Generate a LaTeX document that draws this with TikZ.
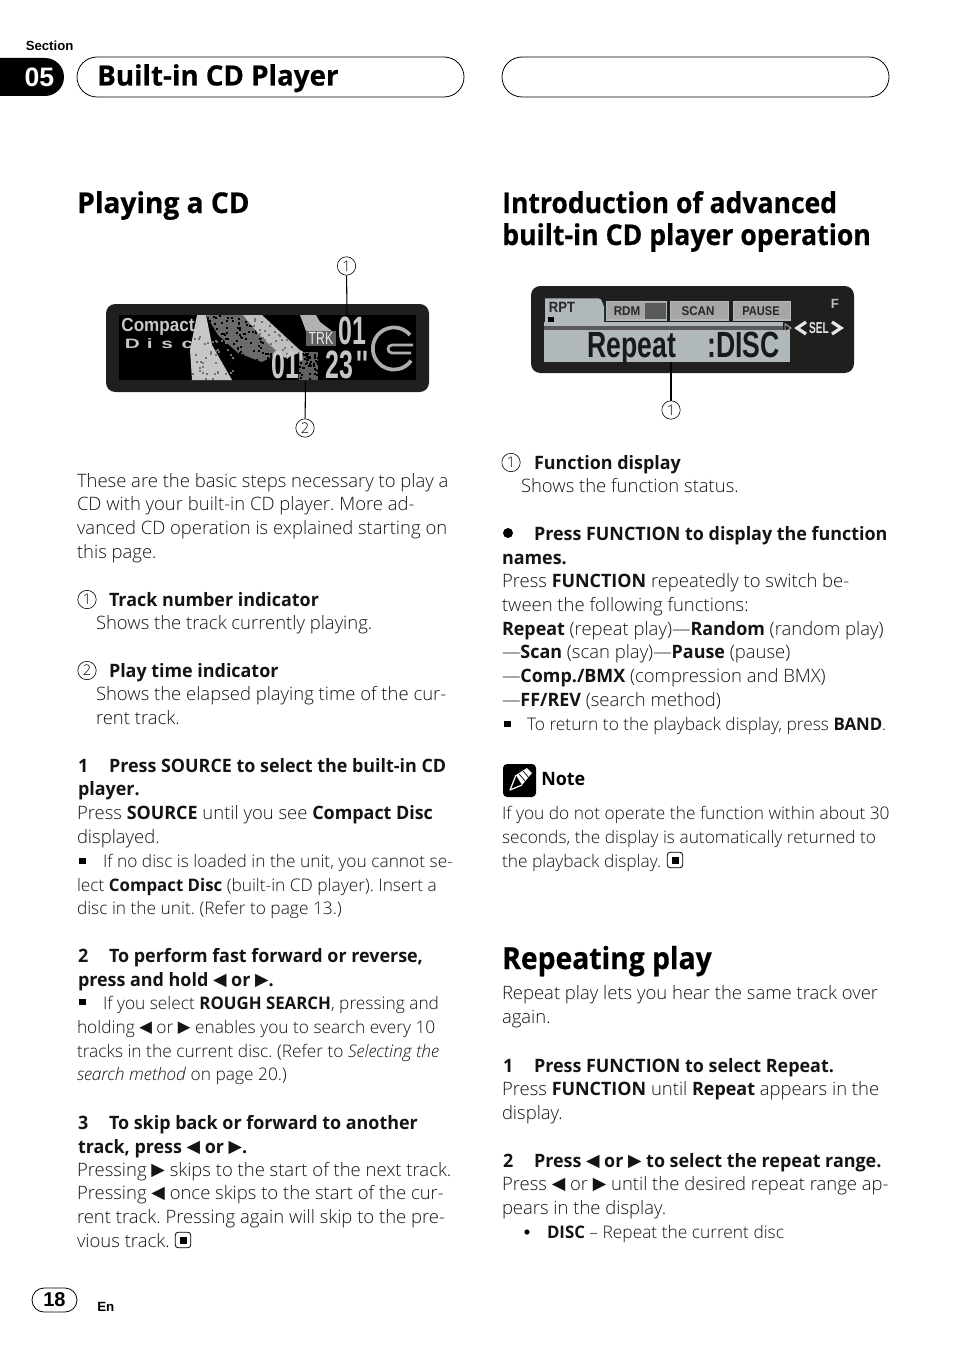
\documentclass[tikz,border=0pt]{standalone}
\usepackage{fontspec}
\setmainfont{Open Sans Light}[BoldFont={Open Sans Bold},BoldFeatures={FakeStretch=0.97},ItalicFont={Open Sans Light Italic}]
\newfontfamily\dispfont{Liberation Sans}
\newfontfamily\headfont{Open Sans}[BoldFeatures={FakeBold=0.5}]
\newfontfamily\arfont{Liberation Sans}
\newfontfamily\symfont{DejaVu Sans}
\usetikzlibrary{calc}
\newcounter{tn}
\frenchspacing
\definecolor{lcd}{RGB}{176,184,188}
\newcommand{\bd}[1]{\textbf{#1}}
\newcommand{\tril}{\raisebox{0.2pt}{\scalebox{.95}{\symfont ◀}}}
\newcommand{\trir}{\raisebox{0.2pt}{\scalebox{.95}{\symfont ▶}}}
\tikzset{
  txt/.style={anchor=base west,inner sep=0pt,outer sep=0pt,text=black!92,font=\fontsize{13.85pt}{16pt}\selectfont},
  stxt/.style={txt,font=\fontsize{13pt}{16pt}\selectfont},
  htxt/.style={anchor=base west,inner sep=0pt,font=\headfont\bfseries\fontsize{21.5pt}{24pt}\selectfont},
  cnum/.style={circle,draw,line width=.45pt,inner sep=0pt,minimum size=13.8pt,font=\fontsize{11pt}{12pt}\selectfont},
  disp/.style={anchor=center,inner sep=0pt,font=\dispfont\bfseries},
  framebox/.style={draw,line width=.6pt,rounded corners=15pt},
}
\newcommand{\LL}[3]{\stepcounter{tn}\node[txt] (t\arabic{tn}) at (#1,#2+6) {#3};}
\newcommand{\LB}[3]{\stepcounter{tn}\node[txt] (t\arabic{tn}) at (#1,#2+7) {\bd{#3}};}
\newcommand{\LS}[3]{\stepcounter{tn}\node[stxt] (t\arabic{tn}) at (#1,#2+6) {#3};}
\newcommand{\HH}[4]{\stepcounter{tn}\node[htxt] (t\arabic{tn}) at (#1,#2) {\scalebox{#3}[1]{#4}};}
\newcommand{\bsq}[2]{\fill (#1-3.2,#2-3) rectangle (#1+3.2,#2+3);}
\newcommand{\CN}[4]{\node[cnum] (#1) at (#2,#3) {#4};}
\newcommand{\stopmark}[3]{\node[draw,rounded corners=2pt,line width=.6pt,minimum size=11.5pt,inner sep=0pt] (#1) at (#2,#3) {}; \fill ($(#1)+(-3.5,-3.5)$) rectangle ($(#1)+(3.5,3.5)$);}
\begin{document}
\begin{tikzpicture}[x=.75pt,y=-.75pt]
\useasboundingbox (0,0) rectangle (954,1352);
\fill[white] (0,0) rectangle (954,1352);
% header
\node[anchor=base west,inner sep=0,font=\arfont\bfseries\fontsize{9.9pt}{10pt}\selectfont] (sec) at (25.5,50.5) {Section};
\fill (0,58) -- (45,58) arc[start angle=90,end angle=-90,radius=14.25pt] -- (0,96) -- cycle;
\node[anchor=center,inner sep=0,text=white,font=\arfont\bfseries\fontsize{20pt}{20pt}\selectfont] (sn) at (39.5,77) {05};
\node[framebox,minimum width=387*.75pt,minimum height=40*.75pt] (hb1) at (270.5,77) {};
\node[framebox,minimum width=387*.75pt,minimum height=40*.75pt] (hb2) at (695.5,77) {};
\node[anchor=base west,inner sep=0,font=\headfont\bfseries\fontsize{21pt}{24pt}\selectfont] (ht) at (97,85.5) {\scalebox{.99}[1]{Built-in CD Player}};
% headings
\HH{77}{213}{.98}{Playing a CD}
\HH{502}{213}{.925}{Introduction of advanced}
\HH{502}{245}{.93}{built-in CD player operation}
\stepcounter{tn}\node[htxt,font=\headfont\bfseries\fontsize{22.8pt}{24pt}\selectfont] (t\arabic{tn}) at (502,969) {\scalebox{.93}[1]{Repeating play}};
% display 1
\fill[black!88,rounded corners=7pt] (106,304) rectangle (429,392);
\fill[black] (119,315) rectangle (416,380);
\fill[black!22] (197,315) -- (206,315) -- (212,345) -- (232,380) -- (192,380) -- (190,350) -- cycle;
\pgfmathsetseed{7}
\begin{scope}
 \clip (206,315) -- (243,315) -- (262,335) -- (280,352) -- (262,362) -- (238,353) -- (218,335) -- cycle;
 \fill[black!58] (200,310) rectangle (290,370);
 \foreach \i in {1,...,170}{
   \pgfmathsetmacro\xa{205+rnd*78}\pgfmathsetmacro\ya{315+rnd*48}
   \fill[black] (\xa,\ya) rectangle (\xa+2,\ya+2);
 }
\end{scope}
\begin{scope}
 \clip (243,315) -- (262,315) -- (302,352) -- (285,358) -- (262,338) -- cycle;
 \fill[black!25] (240,310) rectangle (305,360);
 \foreach \i in {1,...,70}{
   \pgfmathsetmacro\xa{243+rnd*60}\pgfmathsetmacro\ya{315+rnd*44}
   \fill[black!55] (\xa,\ya) rectangle (\xa+2,\ya+2);
 }
\end{scope}
\fill[black!30] (300,315) -- (316,315) -- (320,322) -- (332,331) -- (306,331) -- cycle;
\fill[black!62] (306,331) rectangle (336,346);
\begin{scope}
 \clip (299,352) rectangle (318,380);
 \fill[black!62] (299,352) rectangle (318,380);
 \foreach \i in {1,...,45}{
   \pgfmathsetmacro\xa{299+rnd*19}\pgfmathsetmacro\ya{352+rnd*28}
   \fill[black] (\xa,\ya) rectangle (\xa+2,\ya+2);
 }
\end{scope}
\foreach \i in {1,...,40}{
   \pgfmathsetmacro\xa{192+rnd*40}\pgfmathsetmacro\ya{335+rnd*43}
   \fill[black!55] (\xa,\ya) rectangle (\xa+2,\ya+2);
}
\draw[black!32,line width=2.8pt] (410,335) arc[start angle=40,end angle=325,radius=15.8pt];
\draw[black!32,line width=2pt,rounded corners=3pt] (413,345) -- (388,345) -- (388,353) -- (411,353);
\node[disp,text=black!22,font=\dispfont\bfseries\fontsize{13.5pt}{14pt}\selectfont] (dc) at (158,327) {\scalebox{.95}[1.05]{Compact}};
\node[disp,text=black!22,font=\dispfont\bfseries\fontsize{12pt}{14pt}\selectfont] (dd) at (159,344) {\scalebox{1.3}[.85]{D\hspace{4pt}i\hspace{5pt}s\hspace{5pt}c}};
\node[disp,text=black!8,font=\dispfont\fontsize{11.5pt}{12pt}\selectfont] (dt) at (321,338.5) {\scalebox{.8}[1.15]{TRK}};
\node[disp,text=black!22,font=\dispfont\bfseries\fontsize{22pt}{24pt}\selectfont] (d01) at (352,331) {\scalebox{.85}[1.35]{01}};
\node[disp,anchor=west,text=black!22,font=\dispfont\bfseries\fontsize{22pt}{24pt}\selectfont] (dmm) at (271,365) {\scalebox{.85}[1.35]{01'\hspace{18pt}23\hspace{3pt}''}};
\coordinate (p1) at (347,316);
\coordinate (p2) at (305.5,381);
\CN{c1}{346.5}{266}{1}
\CN{c2}{305}{428}{2}
\draw[line width=.8pt] (c1) -- (p1);
\draw[line width=.8pt] (c2) -- (p2);
% display 2
\fill[black!88,rounded corners=7pt] (531,286) rectangle (854,373);
\begin{scope}[shift={(520,275)},x=.25pt,y=-.25pt]
 \fill[lcd] (72,165) rectangle (810,260);
 \fill[lcd] (75,150) -- (75,70) -- (235,70) to[out=0,in=120] (252,95) -- (252,150) -- cycle;
 \fill[lcd] (72,140) rectangle (790,153);
 \fill[black!65] (72,153) rectangle (790,165);
 \foreach \xa/\xb/\f in {260/440/35,452/625/35,640/812/35}{
  \fill[black!\f] (\xa,80) rectangle (\xb,135);
  \draw[lcd,line width=1.2pt] (\xa,80) rectangle (\xb,135);
 }
 \fill[black!65] (375,84) rectangle (437,131);
 \fill[black] (85,125) rectangle (102,140);
\end{scope}
\node[disp,text=black!85,font=\dispfont\bfseries\fontsize{9.3pt}{10pt}\selectfont] (rp) at (562,307) {\scalebox{1.05}[1.2]{RPT}};
\node[disp,text=black!85,font=\dispfont\bfseries\fontsize{8.3pt}{10pt}\selectfont] (rd) at (627,311) {\scalebox{1.05}[1.15]{RDM}};
\node[disp,text=black!85,font=\dispfont\bfseries\fontsize{8.3pt}{10pt}\selectfont] (sc) at (698,311) {\scalebox{1.05}[1.15]{SCAN}};
\node[disp,text=black!85,font=\dispfont\bfseries\fontsize{8.3pt}{10pt}\selectfont] (pa) at (761,311) {\scalebox{1}[1.15]{PAUSE}};
\node[disp,text=black!25,font=\dispfont\bfseries\fontsize{10pt}{10pt}\selectfont] (ff) at (835,304) {F};
\node[disp,text=black!10,font=\dispfont\bfseries\fontsize{9.5pt}{10pt}\selectfont] (sl) at (819,328) {\scalebox{.8}[1.25]{SEL}};
\draw[black!10,line width=2.4pt] (806,322) -- (797,328) -- (806,334);
\draw[black!10,line width=2.4pt] (832,322) -- (841,328) -- (832,334);
\draw[black!30,line width=.7pt] (785,324) -- (791,328) -- (785,332) -- cycle;
\node[disp,anchor=base,text=black!90,font=\dispfont\bfseries\fontsize{21pt}{24pt}\selectfont] (dr) at (632,357) {\scalebox{.95}[1.3]{Repeat}};
\node[disp,anchor=base,text=black!90,font=\dispfont\bfseries\fontsize{21pt}{24pt}\selectfont] (dd2) at (743.5,357) {\scalebox{.95}[1.3]{:DISC}};
\coordinate (p3) at (671,362);
\CN{c3}{671}{410}{1}
\draw[line width=.8pt] (c3) -- (p3);
% left column
\LL{77}{481}{These are the basic steps necessary to play a}
\LL{77}{504}{CD with your built-in CD player. More ad-}
\LL{77}{528}{vanced CD operation is explained starting on}
\LL{77}{552}{this page.}
\CN{c4}{87}{599.5}{1}
\LB{109}{599}{Track number indicator}
\LL{96}{623}{Shows the track currently playing.}
\CN{c5}{87}{670.5}{2}
\LB{109}{670}{Play time indicator}
\LL{96}{694}{Shows the elapsed playing time of the cur-}
\LL{96}{718}{rent track.}
\LB{78}{765}{1}
\LB{109}{765}{Press SOURCE to select the built-in CD}
\LB{78}{788.5}{player.}
\LL{77}{813}{Press \bd{SOURCE} until you see \bd{Compact Disc}}
\LL{77}{837}{displayed.}
\bsq{82.5}{861}
\LS{103}{861}{If no disc is loaded in the unit, you cannot se-}
\LS{77}{885}{lect \bd{Compact Disc} (built-in CD player). Insert a}
\LS{77}{908}{disc in the unit. (Refer to page 13.)}
\LB{78}{955}{2}
\LB{109}{955}{To perform fast forward or reverse,}
\LB{78}{979}{press and hold \tril{} or \trir{}.}
\bsq{82.5}{1002}
\LS{103}{1003}{If you select \bd{ROUGH SEARCH}, pressing and}
\LS{77}{1027}{holding \tril{} or \trir{} enables you to search every 10}
\LS{77}{1051}{tracks in the current disc. (Refer to \textit{Selecting the}}
\LS{77}{1074}{\textit{search method} on page 20.)}
\LB{78}{1122}{3}
\LB{109}{1122}{To skip back or forward to another}
\LB{78}{1146}{track, press \tril{} or \trir{}.}
\LL{77}{1170}{Pressing \trir{} skips to the start of the next track.}
\LL{77}{1193}{Pressing \tril{} once skips to the start of the cur-}
\LL{77}{1217}{rent track. Pressing again will skip to the pre-}
\LL{77}{1241}{vious track.}
\stopmark{e1}{183}{1240}
% right column
\CN{c6}{511}{462.5}{1}
\LB{534}{462}{Function display}
\LL{521}{486}{Shows the function status.}
\fill (508,533) circle[radius=5];
\LB{534}{533}{Press FUNCTION to display the function}
\LB{502}{557}{names.}
\LL{502}{581}{Press \bd{FUNCTION} repeatedly to switch be-}
\LL{502}{605}{tween the following functions:}
\LL{502}{629}{\bd{Repeat} (repeat play)—\bd{Random} (random play)}
\LL{502}{652}{—\bd{Scan} (scan play)—\bd{Pause} (pause)}
\LL{502}{676}{—\bd{Comp./BMX} (compression and BMX)}
\LL{502}{700}{—\bd{FF/REV} (search method)}
\bsq{507.5}{724}
\LS{527}{724}{To return to the playback display, press \bd{BAND}.}
% note icon
\fill[black,rounded corners=3pt] (503,764) rectangle (536,797);
\fill[white] (516,775) -- (527,768) -- (532,773) -- (522,785) -- cycle;
\draw[black,line width=.5pt] (519,774) -- (526,782) (523,771) -- (529,778);
\draw[white,line width=.9pt,line join=round] (516,775) -- (510,790) -- (522,785);
\node[anchor=base west,inner sep=0,font=\bfseries\fontsize{13.85pt}{16pt}\selectfont] (nt) at (541,785) {Note};
\LS{502}{813}{If you do not operate the function within about 30}
\LS{502}{837}{seconds, the display is automatically returned to}
\LS{502}{861}{the playback display.}
\stopmark{e2}{675}{860}
\LL{502}{993}{Repeat play lets you hear the same track over}
\LL{502}{1017}{again.}
\LB{503}{1065}{1}
\LB{534}{1065}{Press FUNCTION to select Repeat.}
\LL{502}{1089}{Press \bd{FUNCTION} until \bd{Repeat} appears in the}
\LL{502}{1113}{display.}
\LB{503}{1160}{2}
\LB{534}{1160}{Press \tril{} or \trir{} to select the repeat range.}
\LL{502}{1184}{Press \tril{} or \trir{} until the desired repeat range ap-}
\LL{502}{1208}{pears in the display.}
\fill (527,1232) circle[radius=2.6];
\LS{547}{1232}{\bd{DISC} – Repeat the current disc}
% footer
\node[draw,line width=.6pt,rounded corners=9pt,minimum width=45*.75pt,minimum height=24*.75pt,inner sep=0pt,font=\arfont\bfseries\fontsize{15pt}{15pt}\selectfont] (pg) at (54.5,1300) {18};
\node[anchor=base west,inner sep=0,font=\arfont\bfseries\fontsize{10pt}{10pt}\selectfont] (en) at (97,1311) {En};
\end{tikzpicture}
\end{document}
